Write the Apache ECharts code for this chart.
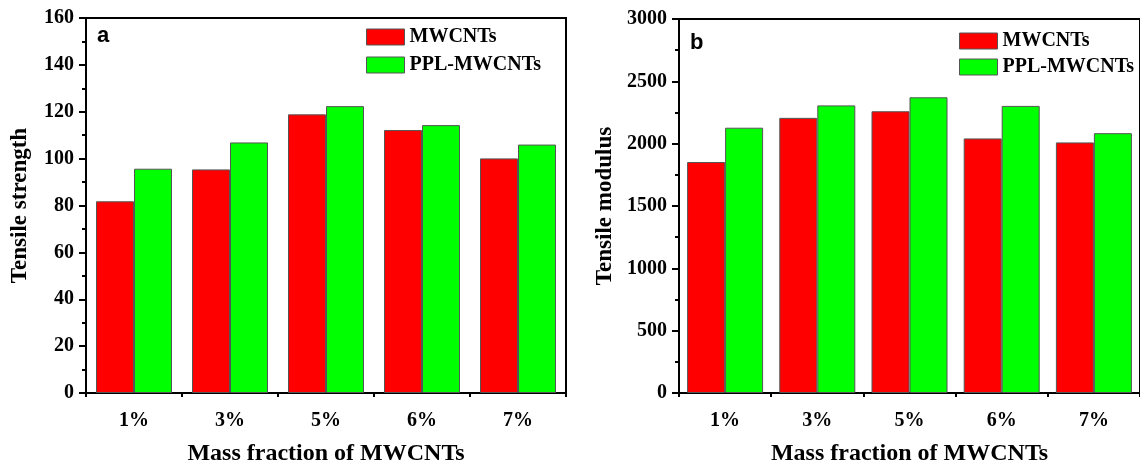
<!DOCTYPE html>
<html>
<head>
<meta charset="utf-8">
<script src="https://cdn.jsdelivr.net/npm/echarts@6/dist/echarts.min.js"></script>
<style>
html,body{margin:0;padding:0;background:#fff;}
#c{width:1140px;height:471px;}
</style>
</head>
<body>
<div id="c"></div>
<script>
const categories = ['1%', '3%', '5%', '6%', '7%'];
const strengthMWCNT = [81.8, 95.4, 118.9, 112.2, 100.1];
const strengthPPL = [95.7, 106.9, 122.4, 114.3, 106.0];
const modulusMWCNT = [1853, 2207, 2260, 2042, 2010];
const modulusPPL = [2128, 2307, 2372, 2303, 2084];
const seriesNames = ['MWCNTs', 'PPL-MWCNTs'];
const strengthTicks = {min: 0, max: 160, interval: 20};
const modulusTicks = {min: 0, max: 3000, interval: 500};

const serif = '"Liberation Serif", "Times New Roman", serif';
const sans = '"Liberation Sans", Arial, sans-serif';
const RED = '#ff0000', GREEN = '#00ff00';

function xAxes(gridIndex) {
  return [
    {
      type: 'category', gridIndex, data: categories, position: 'bottom',
      axisLine: {lineStyle: {color: '#000', width: 2}},
      axisTick: {alignWithLabel: true, length: 7, inside: false, lineStyle: {color: '#000', width: 2}},
      axisLabel: {color: '#000', fontFamily: serif, fontWeight: 'bold', fontSize: 20, margin: 18},
      name: 'Mass fraction of MWCNTs', nameLocation: 'middle', nameGap: 49,
      nameTextStyle: {color: '#000', fontFamily: serif, fontWeight: 'bold', fontSize: 24}
    },
    {
      type: 'category', gridIndex, data: categories, position: 'bottom', offset: 0,
      axisLine: {show: false},
      axisTick: {show: true, length: 4, lineStyle: {color: '#000', width: 2}},
      axisLabel: {show: false}
    }
  ];
}
function yAxis(gridIndex, ticks, name, gap) {
  return {
    type: 'value', gridIndex, min: ticks.min, max: ticks.max, interval: ticks.interval,
    axisLine: {show: true, lineStyle: {color: '#000', width: 2}},
    axisTick: {show: true, length: 7, lineStyle: {color: '#000', width: 2}},
    minorTick: {show: true, splitNumber: 2, length: 4, lineStyle: {color: '#000', width: 2}},
    splitLine: {show: false},
    axisLabel: {color: '#000', fontFamily: serif, fontWeight: 'bold', fontSize: 20, margin: 12,
                formatter: v => String(v)},
    name, nameLocation: 'middle', nameGap: gap, nameRotate: 90,
    nameTextStyle: {color: '#000', fontFamily: serif, fontWeight: 'bold', fontSize: 23}
  };
}
function bar(name, data, color, xi, yi) {
  return {
    type: 'bar', name, data, xAxisIndex: xi, yAxisIndex: yi,
    barWidth: 38, barGap: '0%',
    itemStyle: {color, borderColor: '#555', borderWidth: 1}
  };
}
const legendText = {color: '#000', fontFamily: serif, fontWeight: 'bold', fontSize: 20};

const chart = echarts.init(document.getElementById('c'), null, {renderer: 'canvas'});
chart.setOption({
  animation: false,
  backgroundColor: '#fff',
  title: [
    {text: 'a', left: 97, top: 25, padding: 0, textStyle: {fontFamily: sans, fontWeight: 'bold', fontSize: 22, color: '#000'}},
    {text: 'b', left: 690, top: 32, padding: 0, textStyle: {fontFamily: sans, fontWeight: 'bold', fontSize: 22, color: '#000'}}
  ],
  legend: [
    {data: seriesNames, orient: 'vertical', left: 366, top: 27, padding: 0, itemWidth: 38, itemHeight: 16, itemGap: 8,
     textStyle: legendText, icon: 'rect', itemStyle: {borderColor: '#555', borderWidth: 1}},
    {data: seriesNames, orient: 'vertical', left: 959, top: 31, padding: 0, itemWidth: 38, itemHeight: 16, itemGap: 6,
     textStyle: legendText, icon: 'rect', itemStyle: {borderColor: '#555', borderWidth: 1}}
  ],
  grid: [
    {left: 86, top: 18, width: 480, height: 384, show: true, borderColor: '#000', borderWidth: 2, backgroundColor: 'transparent'},
    {left: 679, top: 19, width: 468, height: 383, show: true, borderColor: '#000', borderWidth: 2, backgroundColor: 'transparent'}
  ],
  xAxis: [...xAxes(0), ...xAxes(1)],
  yAxis: [yAxis(0, strengthTicks, 'Tensile strength', 54), yAxis(1, modulusTicks, 'Tensile modulus', 62)],
  series: [
    bar(seriesNames[0], strengthMWCNT, RED, 0, 0),
    bar(seriesNames[1], strengthPPL, GREEN, 0, 0),
    bar(seriesNames[0], modulusMWCNT, RED, 2, 1),
    bar(seriesNames[1], modulusPPL, GREEN, 2, 1)
  ]
});
</script>
</body>
</html>
